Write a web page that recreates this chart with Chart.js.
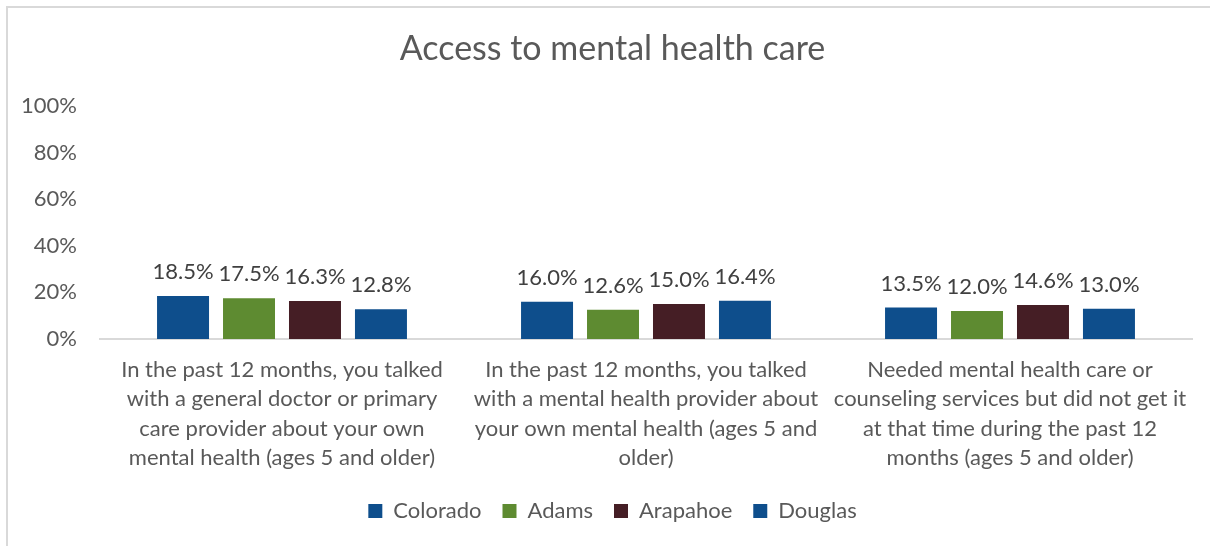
<!DOCTYPE html>
<html>
<head>
<meta charset="utf-8">
<title>Access to mental health care</title>
<script src="https://cdn.jsdelivr.net/npm/chart.js@4.4.1/dist/chart.umd.min.js"></script>
<style>
  html, body { margin: 0; padding: 0; background: #fff; }
  body { width: 1210px; height: 546px; position: relative; overflow: hidden; }
  .frame {
    position: absolute; left: 6px; top: 6px; width: 1300px; height: 700px;
    border-left: 2px solid #d9d9d9; border-top: 2px solid #d9d9d9;
  }
  #chart { position: absolute; left: 0; top: 0; }
</style>
</head>
<body>
<div class="frame"></div>
<canvas id="chart" width="1210" height="546"></canvas>
<script>
const categories = [
  ['In the past 12 months, you talked', 'with a general doctor or primary', 'care provider about your own', 'mental health (ages 5 and older)'],
  ['In the past 12 months, you talked', 'with a mental health provider about', 'your own mental health (ages 5 and', 'older)'],
  ['Needed mental health care or', 'counseling services but did not get it', 'at that time during the past 12', 'months (ages 5 and older)']
];
const seriesNames = ['Colorado', 'Adams', 'Arapahoe', 'Douglas'];
const colorado = [18.5, 16.0, 13.5];
const adams = [17.5, 12.6, 12.0];
const arapahoe = [16.3, 15.0, 14.6];
const douglas = [12.8, 16.4, 13.0];
const yTicks = [0, 20, 40, 60, 80, 100];

const FONT = 'Lato, "Open Sans", sans-serif';
const colors = ['#0e4e8c', '#5e8b31', '#451e25', '#0e4e8c'];

// value labels above each bar
const barLabels = {
  id: 'barLabels',
  afterDatasetsDraw(chart) {
    const ctx = chart.ctx;
    ctx.save();
    ctx.font = '22px ' + FONT;
    ctx.fillStyle = '#404040';
    ctx.textAlign = 'center';
    ctx.textBaseline = 'middle';
    chart.data.datasets.forEach((ds, i) => {
      chart.getDatasetMeta(i).data.forEach((bar, j) => {
        ctx.fillText(ds.data[j].toFixed(1) + '%', bar.x, bar.y - 24);
      });
    });
    ctx.restore();
  }
};

// the y axis box is narrower than "100%", so don't clip its labels
const noTickClip = {
  id: 'noTickClip',
  afterLayout(chart) {
    chart.scales.y._computeLabelArea = () => undefined;
  }
};

const seriesData = [colorado, adams, arapahoe, douglas];

new Chart(document.getElementById('chart'), {
  type: 'bar',
  data: {
    labels: categories,
    datasets: seriesNames.map((name, i) => ({
      label: name,
      data: seriesData[i],
      backgroundColor: colors[i],
      borderWidth: 0,
      categoryPercentage: 0.725,
      barPercentage: 0.788
    }))
  },
  options: {
    responsive: false,
    animation: false,
    layout: { padding: { left: 33, right: 18, top: 0, bottom: 14 } },
    scales: {
      x: {
        grid: { display: false, drawTicks: false },
        border: { display: true, color: '#d9d9d9', width: 2 },
        ticks: {
          color: '#595959',
          padding: 16,
          maxRotation: 0,
          autoSkip: false,
          font: { family: FONT, size: 22, lineHeight: '29.5px' }
        },
        afterFit(scale) { scale.height = 140; }
      },
      y: {
        min: 0,
        max: 100,
        grid: { display: false, drawTicks: false },
        border: { display: false },
        afterBuildTicks(scale) { scale.ticks = yTicks.map((v) => ({ value: v })); },
        ticks: {
          color: '#595959',
          padding: 23,
          font: { family: FONT, size: 22 },
          callback: (v) => v + '%'
        },
        afterFit(scale) { scale.width = 67; }
      }
    },
    plugins: {
      title: {
        display: true,
        text: 'Access to mental health care',
        color: '#595959',
        font: { family: FONT, size: 34, weight: 'normal', lineHeight: 1.2 },
        padding: { top: 29, bottom: 36.2 }
      },
      legend: {
        position: 'bottom',
        labels: {
          color: '#595959',
          boxWidth: 14,
          boxHeight: 14,
          padding: 21,
          font: { family: FONT, size: 22 }
        }
      },
      tooltip: { enabled: false }
    }
  },
  plugins: [barLabels, noTickClip]
});
</script>
</body>
</html>
